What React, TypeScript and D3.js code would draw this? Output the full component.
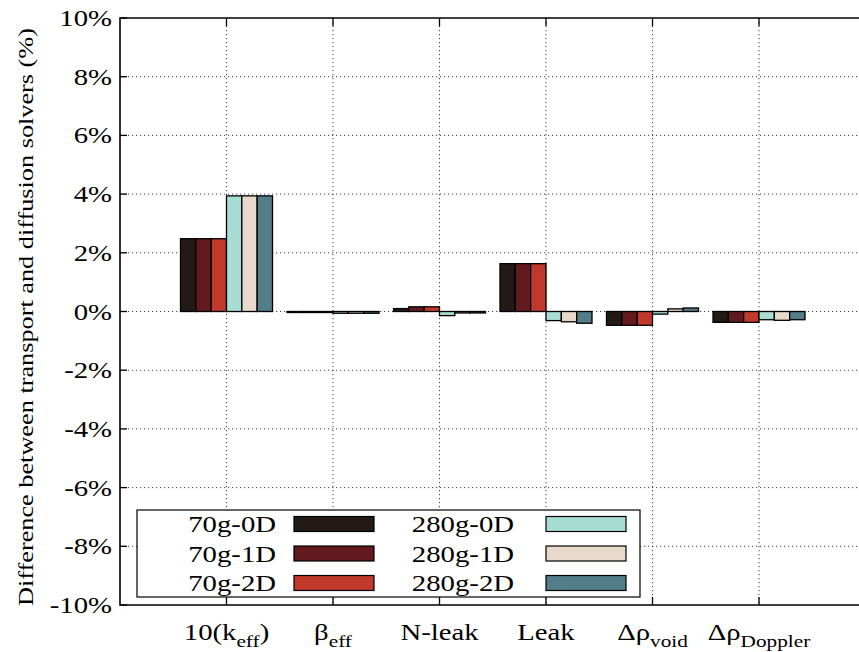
import React from "react";
import * as d3 from "d3";

const categories = ["10(keff)", "beta", "N-leak", "Leak", "void", "Doppler"];
const seriesNames = ["70g-0D", "70g-1D", "70g-2D", "280g-0D", "280g-1D", "280g-2D"];
const seriesColors = ["#231a16", "#621a1f", "#c0392b", "#a8ddd4", "#e8d9cb", "#537d89"];
// values in %, one array per series (order of categories)
const s70g0D = [2.48, -0.03, 0.1, 1.63, -0.47, -0.37];
const s70g1D = [2.48, -0.03, 0.16, 1.63, -0.47, -0.37];
const s70g2D = [2.48, -0.03, 0.16, 1.63, -0.47, -0.37];
const s280g0D = [3.94, -0.06, -0.14, -0.31, -0.09, -0.28];
const s280g1D = [3.94, -0.06, -0.05, -0.35, 0.09, -0.3];
const s280g2D = [3.94, -0.06, -0.05, -0.4, 0.12, -0.28];
const seriesValues = [s70g0D, s70g1D, s70g2D, s280g0D, s280g1D, s280g2D];
const yTicks = [-10, -8, -6, -4, -2, 0, 2, 4, 6, 8, 10];

const W = 859;
const H = 652;
const left = 120;
const right = 859;
const top = 18;
const bottom = 605;
const FONT = "'Liberation Serif', 'Times New Roman', serif";
const SX = 1.25;

export default function App() {
  const x = d3.scaleLinear().domain([-1, 0]).range([left, left + 106.5]);
  const y = d3.scaleLinear().domain([-10, 10]).range([bottom, top]);
  const inner = d3.scaleBand<string>().domain(seriesNames).range([-46, 46]).padding(0);

  const labelEl = (i: number) => {
    const cx = x(i);
    const base = 640;
    const main = 23;
    const sub = 17;
    let content: React.ReactNode;
    if (i === 0)
      content = (
        <>
          <tspan>10(k</tspan>
          <tspan fontSize={sub} dy={7}>eff</tspan>
          <tspan dy={-7}>)</tspan>
        </>
      );
    else if (i === 1)
      content = (
        <>
          <tspan>β</tspan>
          <tspan fontSize={sub} dy={7}>eff</tspan>
        </>
      );
    else if (i === 2) content = <tspan>N-leak</tspan>;
    else if (i === 3) content = <tspan>Leak</tspan>;
    else if (i === 4)
      content = (
        <>
          <tspan>Δρ</tspan>
          <tspan fontSize={sub} dy={7}>void</tspan>
        </>
      );
    else
      content = (
        <>
          <tspan>Δρ</tspan>
          <tspan fontSize={sub} dy={7}>Doppler</tspan>
        </>
      );
    return (
      <text
        key={"xl" + i}
        transform={`translate(${cx},${base}) scale(${SX},1)`}
        textAnchor="middle"
        fontSize={main}
        fontFamily={FONT}
        fill="#000"
      >
        {content}
      </text>
    );
  };

  const legendRows = [524, 553.5, 583];
  const legendCols = [
    { textX: 276, swX: 294 },
    { textX: 514, swX: 546 },
  ];

  return (
    <svg width={W} height={H} style={{ position: "absolute", left: 0, top: 0, background: "#fff" }}>
      <rect x={0} y={0} width={W} height={H} fill="#fff" />
      {/* grid */}
      {yTicks
        .filter((t) => t !== -10 && t !== 10)
        .map((t) => (
          <line
            key={"gy" + t}
            x1={left}
            x2={right}
            y1={y(t)}
            y2={y(t)}
            stroke="#000"
            strokeWidth={1}
            strokeDasharray="1.2,2.8"
            opacity={0.75}
          />
        ))}
      {categories.map((c, i) => (
        <line
          key={"gx" + c}
          x1={x(i)}
          x2={x(i)}
          y1={top}
          y2={bottom}
          stroke="#000"
          strokeWidth={1}
          strokeDasharray="1.2,2.8"
          opacity={0.75}
        />
      ))}
      {/* bars */}
      {seriesNames.map((s, j) =>
        categories.map((c, i) => {
          const v = seriesValues[j][i];
          const x0 = x(i) + (inner(s) as number);
          const y0 = Math.min(y(v), y(0));
          const h = Math.max(Math.abs(y(v) - y(0)), 1);
          return (
            <rect
              key={s + c}
              x={x0}
              y={y0}
              width={inner.bandwidth()}
              height={h}
              fill={seriesColors[j]}
              stroke="#000"
              strokeWidth={1.3}
            />
          );
        })
      )}
      {/* legend */}
      <rect x={137} y={510} width={503} height={87} fill="#fff" stroke="#000" strokeWidth={1.2} />
      {seriesNames.map((s, j) => {
        const col = legendCols[Math.floor(j / 3)];
        const ry = legendRows[j % 3];
        return (
          <g key={"lg" + s}>
            <text
              transform={`translate(${col.textX},${ry + 8}) scale(${SX},1)`}
              textAnchor="end"
              fontSize={23}
              fontFamily={FONT}
            >
              {s}
            </text>
            <rect x={col.swX} y={ry - 7.5} width={80} height={15} fill={seriesColors[j]} stroke="#000" strokeWidth={1.2} />
          </g>
        );
      })}
      {/* frame */}
      <path d={`M${right},${top}H${left}V${bottom}H${right}`} fill="none" stroke="#000" strokeWidth={1.6} />
      {/* ticks */}
      {yTicks.map((t) => (
        <line key={"ty" + t} x1={left} x2={left + 7} y1={y(t)} y2={y(t)} stroke="#000" strokeWidth={1.3} />
      ))}
      {categories.map((c, i) => (
        <g key={"tx" + c}>
          <line x1={x(i)} x2={x(i)} y1={bottom} y2={bottom - 8} stroke="#000" strokeWidth={1.3} />
          <line x1={x(i)} x2={x(i)} y1={top} y2={top + 8} stroke="#000" strokeWidth={1.3} />
        </g>
      ))}
      {/* y tick labels */}
      {yTicks.map((t) => (
        <text
          key={"yl" + t}
          transform={`translate(112,${y(t) + 8}) scale(${SX},1)`}
          textAnchor="end"
          fontSize={23}
          fontFamily={FONT}
        >
          {`${t}%`}
        </text>
      ))}
      {/* x labels */}
      {categories.map((c, i) => labelEl(i))}
      {/* y axis title */}
      <text
        transform={`translate(33,317) rotate(-90)`}
        textAnchor="middle"
        fontSize={21}
        fontFamily={FONT}
        textLength={578}
        lengthAdjust="spacingAndGlyphs"
      >
        Difference between transport and diffusion solvers (%)
      </text>
    </svg>
  );
}
